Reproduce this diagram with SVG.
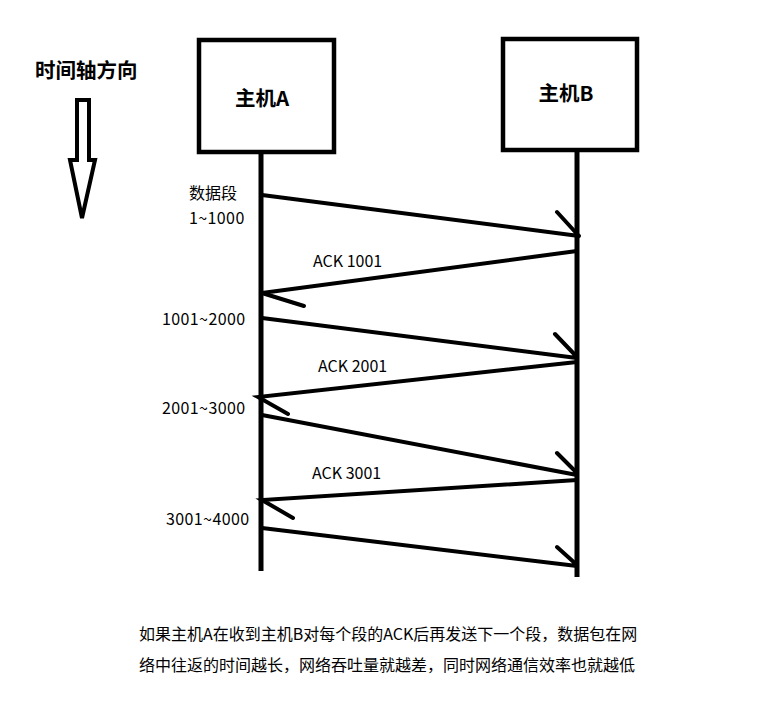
<svg xmlns="http://www.w3.org/2000/svg" width="778" height="705" viewBox="0 0 778 705">
<style>
.box{fill:#fff;stroke:#000;stroke-width:4.5}
.life{stroke:#000;stroke-width:5;fill:none;stroke-linecap:butt}
.msg{stroke:#000;stroke-width:4;fill:none;stroke-linecap:round}
.t{font-family:"Noto Sans CJK SC","Liberation Sans",sans-serif;fill:#000}
.b{font-weight:700;font-size:20.5px}
.s{font-size:16px}
.d{letter-spacing:0.4px}
.n{font-size:16px}
</style>
<rect width="778" height="705" fill="#fff"/>
<g id="time-axis">
<text class="t b" x="35" y="78">时间轴方向</text>
<path d="M77,100 H89 V160 H95 L82,218 L70,160 H77 Z" fill="none" stroke="#000" stroke-width="4" stroke-linejoin="miter"/>
</g>
<g id="hostA">
<line class="life" x1="261" y1="151" x2="261" y2="571"/>
<rect class="box" x="199" y="40" width="135" height="112"/>
<text class="t b" x="262" y="106" text-anchor="middle">主机A</text>
</g>
<g id="hostB">
<line class="life" x1="577" y1="150" x2="577" y2="577"/>
<rect class="box" x="503" y="39" width="134" height="111"/>
<text class="t b" x="566" y="101" text-anchor="middle">主机B</text>
</g>
<g id="connectors">
<path class="msg" d="M262,195 L579,236 M557,212 L578,235"/>
<path class="msg" d="M577,251 L262,293 L304,306"/>
<path class="msg" d="M262,318 L577,358 M555,334 L577,357"/>
<path class="msg" d="M577,362 L258,397 L288,414"/>
<path class="msg" d="M262,415 L577,475 M557,453 L577,473"/>
<path class="msg" d="M577,480 L262,500 L293,518"/>
<path class="msg" d="M262,528 L577,566 M557,547 L577,565"/>
</g>
<g id="labels">
<text class="t s" x="189" y="199">数据段</text>
<text class="t s d" x="189" y="224">1~1000</text>
<text class="t s" x="313" y="267">ACK 1001</text>
<text class="t s d" x="162" y="325">1001~2000</text>
<text class="t s" x="318" y="372">ACK 2001</text>
<text class="t s d" x="162" y="414">2001~3000</text>
<text class="t s" x="312" y="479">ACK 3001</text>
<text class="t s d" x="166" y="525">3001~4000</text>
</g>
<g id="caption">
<text class="t n" x="139" y="640">如果主机A在收到主机B对每个段的ACK后再发送下一个段，数据包在网</text>
<text class="t n" x="139" y="671">络中往返的时间越长，网络吞吐量就越差，同时网络通信效率也就越低</text>
</g>
</svg>
